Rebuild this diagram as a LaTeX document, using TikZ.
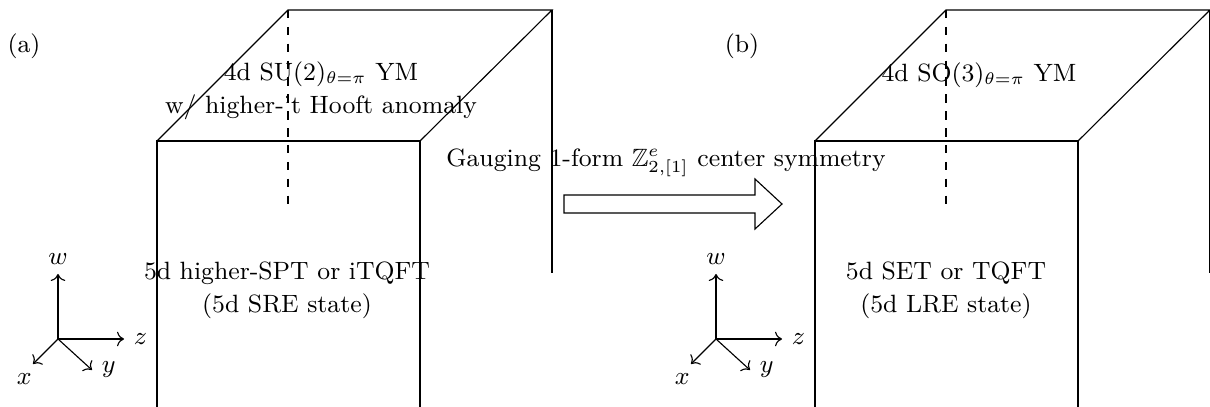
\documentclass[tikz,border=0pt]{standalone}
\usepackage{amsmath,amssymb}
\usepackage{tikz}
\usetikzlibrary{arrows.meta, positioning, calc}

\begin{document}
\begin{tikzpicture}[x=0.0125cm, y=-0.0125cm,
    every node/.style={font=\fontsize{8.9}{11.7}\selectfont}]
    \useasboundingbox (0,0) rectangle (1210,407);

    % Boxes (a) and (b)
    \foreach \dx in {0, 658} {
        \coordinate (ftl) at (157+\dx, 141);
        \coordinate (ftr) at (420+\dx, 141);
        \coordinate (btl) at (288+\dx, 10);
        \coordinate (btr) at (552+\dx, 10);
        \draw (157+\dx, 407) -- (ftl) -- (ftr) -- (420+\dx, 407);
        \draw (ftl) -- (btl) -- (btr) -- (ftr);
        \draw (btr) -- (552+\dx, 273);
        \draw[dashed] (btl) -- (288+\dx, 207);
    }

    % Axes
    \foreach \ox/\s in {58/A, 716/B} {
        \coordinate (o\s) at (\ox, 339);
        \draw[->] (o\s) -- ++(0,-65) node[above=0pt] (w\s) {$w$};
        \draw[->] (o\s) -- ++(66,0) node[right=0pt] (z\s) {$z$};
        \draw[->] (o\s) -- ++(-25,25) node[below left=0pt and -3pt] (x\s) {$x$};
        \draw[->] (o\s) -- ++(34,31) node[right=0pt] (y\s) {$y$};
    }

    % Labels
    \node (labA) at (24, 46) {(a)};
    \node (labB) at (742, 46) {(b)};

    \node[align=center] (topA) at (321, 91)
        {4d SU(2)$_{\theta=\pi}$ YM\\w/ higher-'t Hooft anomaly};
    \node (topB) at (979, 75) {4d SO(3)$_{\theta=\pi}$ YM};

    \node[align=center] (botA) at (287, 290)
        {5d higher-SPT or iTQFT\\(5d SRE state)};
    \node[align=center] (botB) at (946, 290)
        {5d SET or TQFT\\(5d LRE state)};

    % Gauging arrow
    \node (gauge) at (666, 163)
        {Gauging 1-form $\mathbb{Z}^e_{2,[1]}$ center symmetry};
    \draw (564,195) -- (755,195) -- (755,179) -- (782,204) -- (755,229)
        -- (755,213) -- (564,213) -- cycle;
\end{tikzpicture}
\end{document}
